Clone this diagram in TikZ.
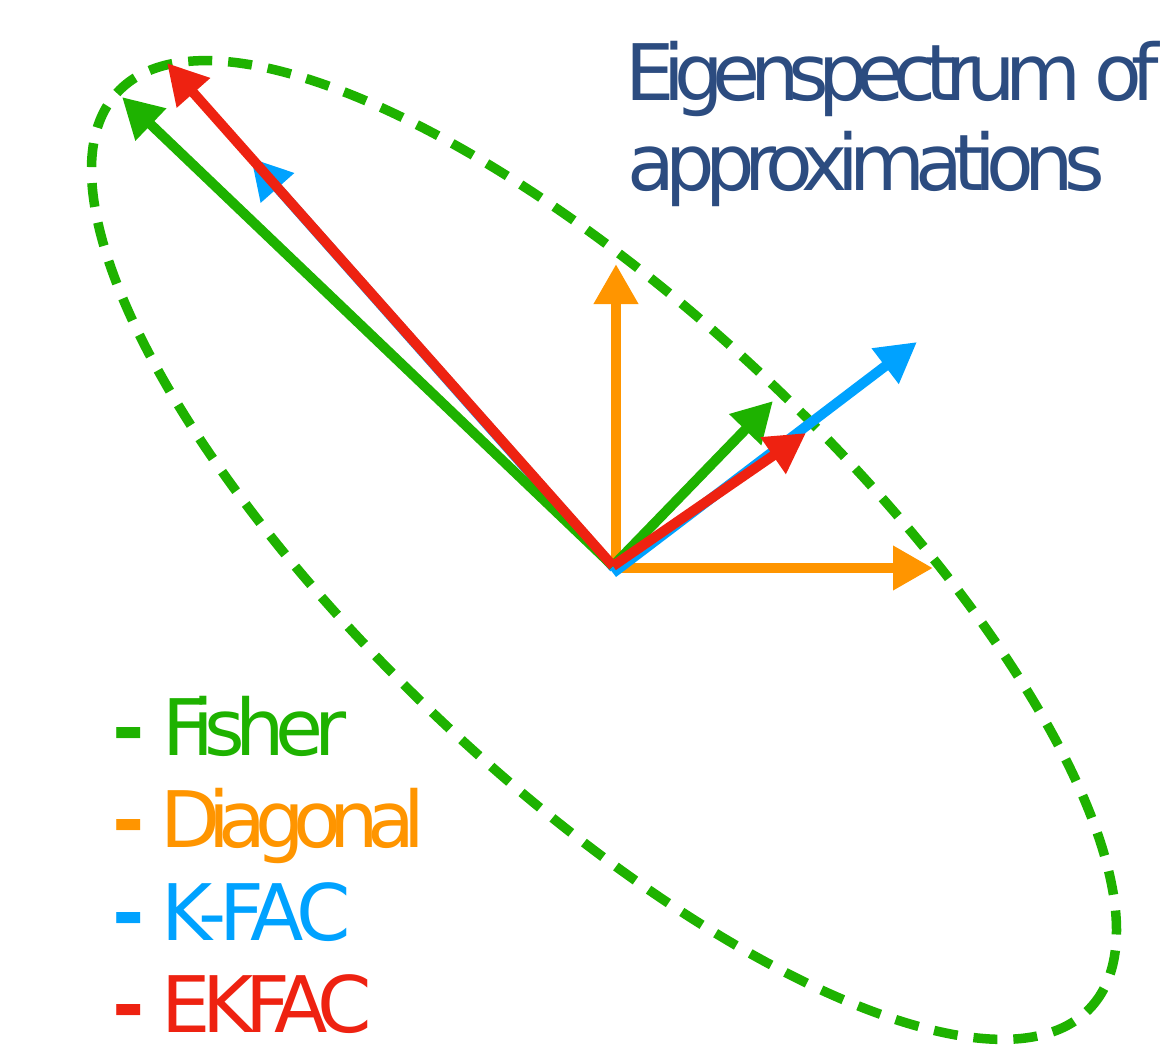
\documentclass[tikz,border=0pt]{standalone}
\usepackage{fontspec}
\setmainfont{DejaVu Sans}
\newfontfamily\tightfont[LetterSpace=-14]{DejaVu Sans}
\newfontfamily\tightfontC[LetterSpace=-12.5]{DejaVu Sans}
\newfontfamily\tightfontB[LetterSpace=-12]{DejaVu Sans}
\newfontfamily\tightfontD[LetterSpace=-14.8]{DejaVu Sans}
\newfontfamily\tightfontK[LetterSpace=-8.5]{DejaVu Sans}
\newfontfamily\tightfontE[LetterSpace=-11]{DejaVu Sans}
\usetikzlibrary{arrows.meta}
\definecolor{cgreen}{RGB}{30,178,0}
\definecolor{corange}{RGB}{255,149,0}
\definecolor{cblue}{RGB}{0,162,255}
\definecolor{cred}{RGB}{238,34,17}
\definecolor{cnavy}{RGB}{44,76,128}
\begin{document}
\begin{tikzpicture}[x=1pt,y=-1pt,
  vec/.style={line width=10pt,-{Triangle[length=40pt,width=42pt]}},
  ell/.style={draw=cgreen,line width=9.5pt,dash pattern=on 24pt off 16pt},
  title/.style={anchor=base west,inner sep=0pt,text=cnavy,font=\fontsize{78}{90}\selectfont\tightfont},
  legend/.style={anchor=base west,inner sep=0pt,font=\fontsize{78}{90}\selectfont\tightfontB}]
\useasboundingbox (0,0) rectangle (1163,1049);
% ellipse
\draw[ell,rotate around={-43.3:(604,550)}] (604,550) ellipse [x radius=668pt, y radius=236pt];
% coordinates
\coordinate (O) at (613,566);
\coordinate (Ob) at (613,573);
\coordinate (Obl) at (614,568);
\coordinate (Oo) at (616,568);
\coordinate (oU) at (616,264);
\coordinate (oR) at (933,568);
\coordinate (bL) at (251,158);
\coordinate (bS) at (917,342);
\coordinate (gL) at (122,97);
\coordinate (gS) at (773,401);
\coordinate (rL) at (167,63);
\coordinate (rS) at (806,433);
% arrows
\draw[vec,corange] (Oo) -- (oU);
\draw[vec,corange] (Oo) -- (oR);
\draw[vec,cblue] (Obl) -- (bL);
\draw[vec,cblue] (Ob) -- (bS);
\draw[vec,cgreen] (O) -- (gL);
\draw[vec,cgreen] (O) -- (gS);
\draw[vec,cred] (O) -- (rL);
\draw[vec,cred] (O) -- (rS);
% title
\node[title] (t1) at (625,100) {Eigenspectrum of};
\node[title,font=\fontsize{78}{90}\selectfont\tightfontC] (t2) at (627,190) {approximations};
% legend
\node[legend,text=cgreen] (l1) at (112,755) {\textbf{-}\kern27pt Fisher};
\node[legend,text=corange,font=\fontsize{78}{90}\selectfont\tightfontD] (l2) at (112,847) {\textbf{-}\kern27pt Diagonal};
\node[legend,text=cblue,font=\fontsize{78}{90}\selectfont\tightfontK] (l3) at (112,940) {\textbf{-}\kern24pt K-FAC};
\node[legend,text=cred,font=\fontsize{78}{90}\selectfont\tightfontE] (l4) at (112,1032) {\textbf{-}\kern26pt EKFAC};
\end{tikzpicture}
\end{document}
